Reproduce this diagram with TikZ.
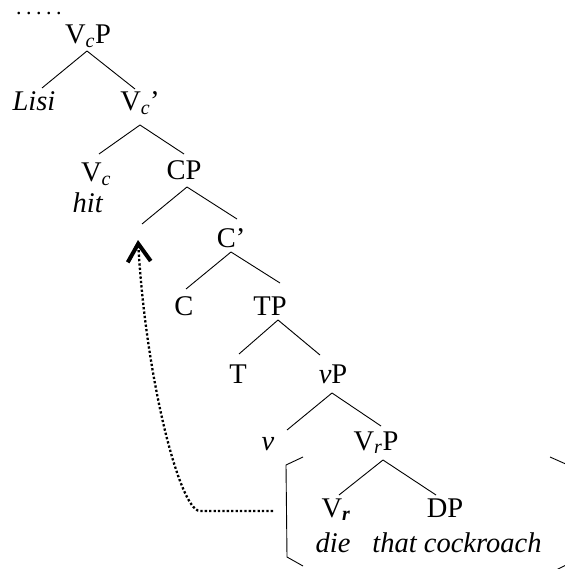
\documentclass[tikz,border=0pt]{standalone}
\usepackage{fontspec}
\setmainfont{Liberation Serif}
\usetikzlibrary{arrows.meta,calc}

\begin{document}
\begin{tikzpicture}[x=1pt, y=-1pt, font=\fontsize{28.5}{34}\selectfont]
    \tikzstyle{cat} = [anchor=base, inner sep=0pt]
    \tikzstyle{branch} = [draw, line width=0.9pt]
    \tikzstyle{bracket} = [draw, line width=0.9pt]
    \tikzstyle{movement} = [draw, line width=2.3pt, dash pattern=on 2.3pt off 2.1pt, -{Straight Barb[length=18pt, width=23pt, line width=4pt]}]

    \useasboundingbox (0,0) rectangle (564,569);

    % tree labels
    \node [cat, font=\fontsize{22}{26}\selectfont] (dots) at (39,15) {.\kern4.5pt.\kern4.5pt.\kern4.5pt.\kern4.5pt.};
    \node [cat] (vcp) at (88,44) {V\textsubscript{\textit{c}}P};
    \node [cat] (lisi) at (34,111) {\textit{Lisi}};
    \node [cat] (vcbar) at (140,111) {V\textsubscript{\textit{c}}’};
    \node [cat] (vc) at (96,182) {V\textsubscript{\textit{c}}};
    \node [cat] (hit) at (88,212) {\textit{hit}};
    \node [cat] (cp) at (184,180) {CP};
    \coordinate (spec) at (142,224);
    \node [cat] (cbar) at (231,247) {C’};
    \node [cat] (c) at (184,315) {C};
    \node [cat] (tp) at (270,315) {TP};
    \node [cat] (t) at (238,383) {T};
    \node [cat] (vp) at (333,383) {\textit{v}P};
    \node [cat] (v) at (268,450) {\textit{v}};
    \node [cat] (vrp) at (376,450) {V\textsubscript{\textit{r}}P};
    \node [cat] (vr) at (336,517) {V\textsubscript{\textbf{\textit{r}}}};
    \node [cat] (dp) at (445,517) {DP};
    \node [cat] (die) at (333,552) {\textit{die}};
    \node [cat] (cockroach) at (457,552) {\textit{that cockroach}};

    % branches
    \path [branch] ($(vcp.base)+(-1,7)$) -- ($(lisi.base)+(8,-23)$);
    \path [branch] ($(vcp.base)+(-1,7)$) -- ($(vcbar.base)+(-5,-22)$);
    \path [branch] ($(vcbar.base)+(0,14)$) -- ($(vc.base)+(3,-28)$);
    \path [branch] ($(vcbar.base)+(0,14)$) -- ($(cp.base)+(0,-26)$);
    \path [branch] ($(cp.base)+(3,7)$) -- (spec);
    \path [branch] ($(cp.base)+(3,7)$) -- ($(cbar.base)+(6,-28)$);
    \path [branch] ($(cbar.base)+(0,5)$) -- ($(c.base)+(2,-26)$);
    \path [branch] ($(cbar.base)+(0,5)$) -- ($(tp.base)+(10,-32)$);
    \path [branch] ($(tp.base)+(8,5)$) -- ($(t.base)+(1,-29)$);
    \path [branch] ($(tp.base)+(8,5)$) -- ($(vp.base)+(-13,-28)$);
    \path [branch] ($(vp.base)+(-1,10)$) -- ($(v.base)+(19,-20)$);
    \path [branch] ($(vp.base)+(-1,10)$) -- ($(vrp.base)+(5,-24)$);
    \path [branch] ($(vrp.base)+(7,10)$) -- ($(vr.base)+(3,-22)$);
    \path [branch] ($(vrp.base)+(7,10)$) -- ($(dp.base)+(-9,-22)$);

    % brackets round the VrP
    \path [bracket] (303,457) -- (286,465) -- (287,557) -- (303,566);
    \path [bracket] (550,457) -- (568,465) -- (570,563) -- (552,572);

    % movement
    \coordinate (trace) at (273,511);
    \coordinate (landing) at (138,240);
    \path [movement] (trace) -- ++(-73,0) .. controls (180,511) and (146,380) .. (landing);
\end{tikzpicture}
\end{document}
